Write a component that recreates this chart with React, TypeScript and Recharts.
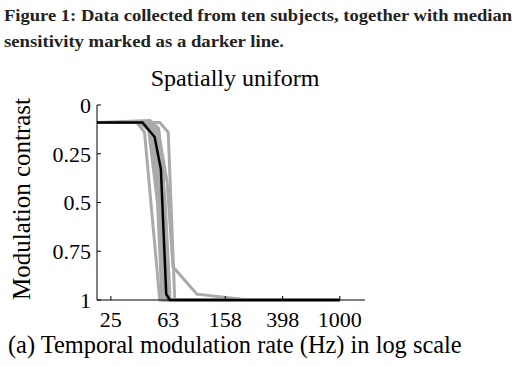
import { Line, LineChart, XAxis, YAxis } from 'recharts'

// frequencies in Hz, contrast 0 (top) .. 1 (bottom)
const xTicks = [25, 63, 158, 398, 1000]
const yTicks = [0, 0.25, 0.5, 0.75, 1]

const subject1 = [
  { f: 20, v: 0.09 }, { f: 38, v: 0.09 }, { f: 43, v: 0.14 }, { f: 55, v: 1 }, { f: 1000, v: 1 },
]
const subject2 = [
  { f: 20, v: 0.09 }, { f: 40, v: 0.09 }, { f: 46, v: 0.13 }, { f: 53, v: 0.5 }, { f: 57, v: 1 }, { f: 1000, v: 1 },
]
const subject3 = [
  { f: 20, v: 0.09 }, { f: 42, v: 0.09 }, { f: 48, v: 0.12 }, { f: 56, v: 0.6 }, { f: 60, v: 1 }, { f: 1000, v: 1 },
]
const subject4 = [
  { f: 20, v: 0.09 }, { f: 44, v: 0.09 }, { f: 50, v: 0.13 }, { f: 57, v: 0.45 }, { f: 62, v: 1 }, { f: 1000, v: 1 },
]
const subject5 = [
  { f: 20, v: 0.09 }, { f: 46, v: 0.09 }, { f: 52, v: 0.12 }, { f: 58, v: 0.35 }, { f: 63, v: 1 }, { f: 1000, v: 1 },
]
const subject6 = [
  { f: 20, v: 0.09 }, { f: 47, v: 0.08 }, { f: 54, v: 0.12 }, { f: 60, v: 0.5 }, { f: 65, v: 1 }, { f: 1000, v: 1 },
]
const subject7 = [
  { f: 20, v: 0.09 }, { f: 55, v: 0.09 }, { f: 63, v: 0.14 }, { f: 70, v: 1 }, { f: 1000, v: 1 },
]
const subject8 = [
  { f: 20, v: 0.09 }, { f: 46, v: 0.09 }, { f: 54, v: 0.14 }, { f: 62, v: 0.4 }, { f: 68, v: 0.83 },
  { f: 100, v: 0.97 }, { f: 230, v: 1 }, { f: 1000, v: 1 },
]
const subject9 = [
  { f: 20, v: 0.09 }, { f: 43, v: 0.09 }, { f: 50, v: 0.15 }, { f: 60, v: 1 }, { f: 1000, v: 1 },
]
const subject10 = [
  { f: 20, v: 0.09 }, { f: 45, v: 0.09 }, { f: 51, v: 0.11 }, { f: 59, v: 0.7 }, { f: 62, v: 1 }, { f: 1000, v: 1 },
]
const median = [
  { f: 20, v: 0.09 }, { f: 41.6, v: 0.09 }, { f: 50.6, v: 0.164 }, { f: 56, v: 0.33 },
  { f: 61, v: 0.97 }, { f: 64.7, v: 1 }, { f: 1000, v: 1 },
]

const subjects = [
  subject1, subject2, subject3, subject4, subject5,
  subject6, subject7, subject8, subject9, subject10,
]

const serif = '"Liberation Serif", "Times New Roman", serif'

export default function App() {
  const tickStyle = { fontFamily: serif, fontSize: 22, fill: '#000' }

  return (
    <div
      style={{
        position: 'absolute',
        left: 0,
        top: 0,
        width: 529,
        height: 367,
        background: '#fff',
        overflow: 'hidden',
      }}
    >
      <LineChart
        width={529}
        height={367}
        margin={{ top: 105, right: 164, left: 37, bottom: 37 }}
      >
        <XAxis
          type="number"
          dataKey="f"
          scale="log"
          domain={[20, 1500]}
          ticks={xTicks}
          allowDataOverflow
          stroke="#000"
          tickSize={-4}
          tickMargin={15}
          height={30}
          tick={tickStyle}
          axisLine={{ stroke: '#000', strokeWidth: 1 }}
          tickLine={{ stroke: '#000' }}
        />
        <YAxis
          type="number"
          dataKey="v"
          domain={[0, 1]}
          reversed
          ticks={yTicks}
          width={60}
          tickSize={-4}
          tickMargin={10}
          tick={tickStyle}
          axisLine={{ stroke: '#000', strokeWidth: 1 }}
          tickLine={{ stroke: '#000' }}
          tickFormatter={(v: number) => String(v)}
        />
        {subjects.map((s, i) => (
          <Line
            key={i}
            data={s}
            dataKey="v"
            type="linear"
            stroke="#aaaaaa"
            strokeWidth={3}
            dot={false}
            activeDot={false}
            isAnimationActive={false}
          />
        ))}
        <Line
          data={median}
          dataKey="v"
          type="linear"
          stroke="#000"
          strokeWidth={2.5}
          dot={false}
          activeDot={false}
          isAnimationActive={false}
        />
      </LineChart>

      <svg
        width={529}
        height={367}
        style={{ position: 'absolute', left: 0, top: 0, pointerEvents: 'none' }}
      >
        <g fontFamily={serif} fontWeight="bold" fontSize={17} fill="#222">
          <text x={4} y={21} textLength={508} lengthAdjust="spacingAndGlyphs">
            Figure 1: Data collected from ten subjects, together with median
          </text>
          <text x={4} y={47} textLength={280} lengthAdjust="spacingAndGlyphs">
            sensitivity marked as a darker line.
          </text>
        </g>
        <text x={235} y={86} textAnchor="middle" fontFamily={serif} fontSize={24} fill="#000">
          Spatially uniform
        </text>
        <text
          x={0}
          y={0}
          transform="translate(30,199) rotate(-90)"
          textAnchor="middle"
          fontFamily={serif}
          fontSize={25}
          fill="#000"
        >
          Modulation contrast
        </text>
        <text x={8} y={353} fontFamily={serif} fontSize={24.4} fill="#000">
          (a) Temporal modulation rate (Hz) in log scale
        </text>
      </svg>
    </div>
  )
}
